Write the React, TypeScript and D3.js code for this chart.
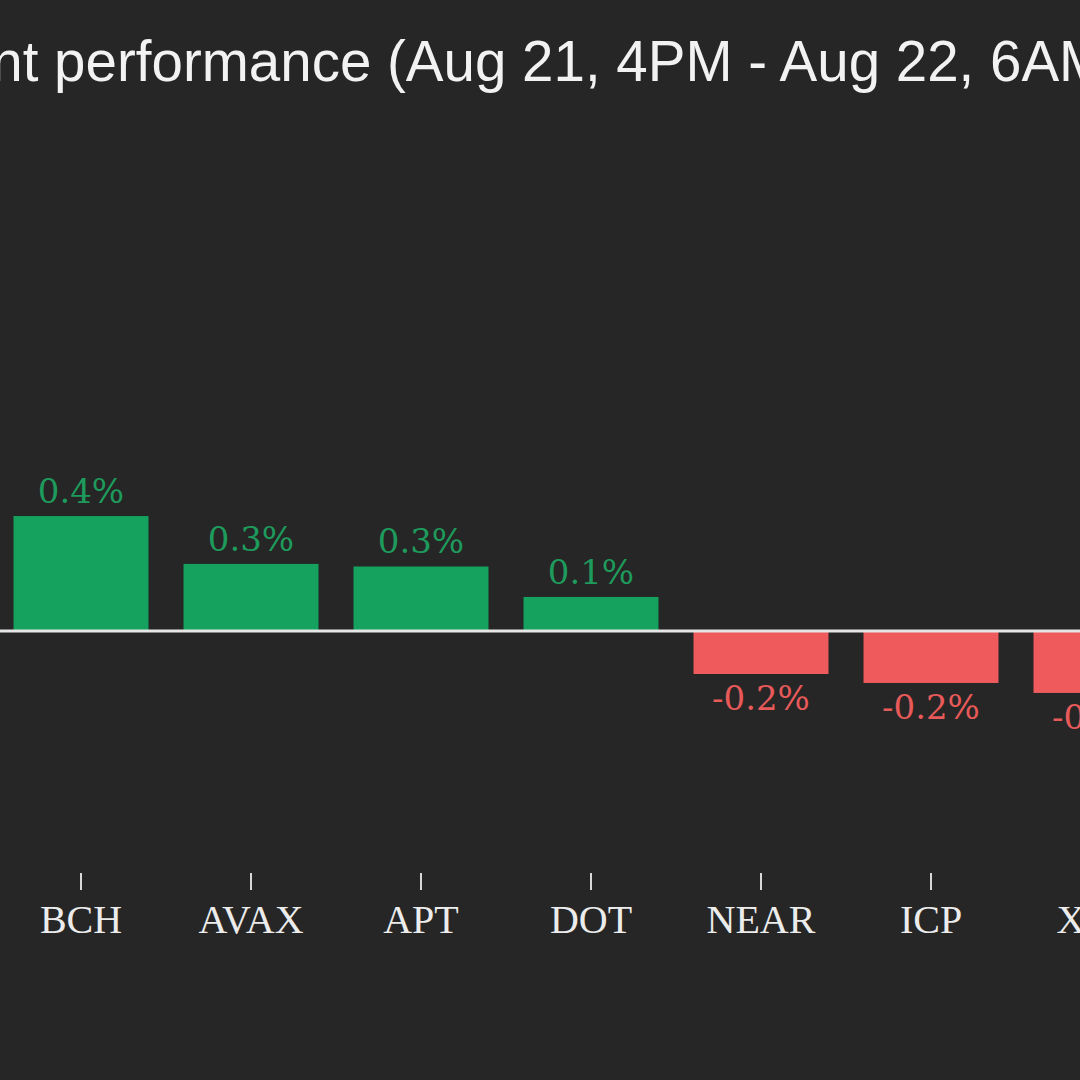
import React, { useLayoutEffect, useRef, useState } from "react";
import * as d3 from "d3";

const categories = ["BCH", "AVAX", "APT", "DOT", "NEAR", "ICP", "XLM"];
const changes = [0.449, 0.262, 0.252, 0.133, -0.168, -0.203, -0.242];
const titleLead = "Recent performance ";
const titleRange = "(Aug 21, 4PM - Aug 22, 6AM)";

const W = 1080;
const H = 1080;
const BG = "#262626";
const GREEN = "#14a25e";
const GREEN_TEXT = "#1e9b5c";
const RED = "#ef5b5c";
const RED_TEXT = "#e85a5a";

export default function App() {
  const titleRef = useRef<SVGTextElement>(null);
  const [titleX, setTitleX] = useState(0);

  const x = d3
    .scaleBand<string>()
    .domain(categories)
    .range([-4, -4 + 170 * categories.length])
    .paddingInner(0.206)
    .paddingOuter(0.103);
  const y = d3.scaleLinear().domain([-0.3, 0.5]).range([631 + 0.3 * 256, 631 - 0.5 * 256]);
  const fmt = (v: number) => d3.format(".1f")(v).replace("\u2212", "-") + "%";

  useLayoutEffect(() => {
    const el = titleRef.current;
    if (!el) return;
    const lead = el.getSubStringLength(0, titleLead.length);
    setTitleX(387 - lead);
  }, []);

  const y0 = y(0);

  return (
    <div style={{ position: "fixed", left: 0, top: 0, width: W, height: H, background: BG }}>
      <svg width={W} height={H} style={{ display: "block", overflow: "hidden" }}>
        <rect x={0} y={0} width={W} height={H} fill={BG} />
        <text
          ref={titleRef}
          x={titleX}
          y={81}
          fill="#f2f2f2"
          fontFamily="'Liberation Sans', Arial, sans-serif"
          fontSize={56.5}
          style={{ whiteSpace: "pre" }}
        >
          {titleLead + titleRange}
        </text>
        {categories.map((c, i) => {
          const v = changes[i];
          const bx = x(c)!;
          const top = v >= 0 ? y(v) : y0;
          const h = Math.abs(y(v) - y0);
          const cx = bx + x.bandwidth() / 2;
          return (
            <g key={c}>
              <rect x={bx} y={top} width={x.bandwidth()} height={h} fill={v >= 0 ? GREEN : RED} />
              <text
                x={cx}
                y={v >= 0 ? y(v) - 13 : y(v) + 36}
                textAnchor="middle"
                fill={v >= 0 ? GREEN_TEXT : RED_TEXT}
                fontFamily="'DejaVu Serif', serif"
                fontSize={34}
              >
                {fmt(v)}
              </text>
              <line x1={cx} x2={cx} y1={873} y2={890} stroke="#d8d8d8" strokeWidth={2} />
              <text
                x={cx}
                y={933}
                textAnchor="middle"
                fill="#ececec"
                fontFamily="'Liberation Serif', 'Times New Roman', serif"
                fontSize={40}
              >
                {c}
              </text>
            </g>
          );
        })}
        <line x1={0} x2={W} y1={y0} y2={y0} stroke="#e6e6e6" strokeWidth={3} />
      </svg>
    </div>
  );
}
